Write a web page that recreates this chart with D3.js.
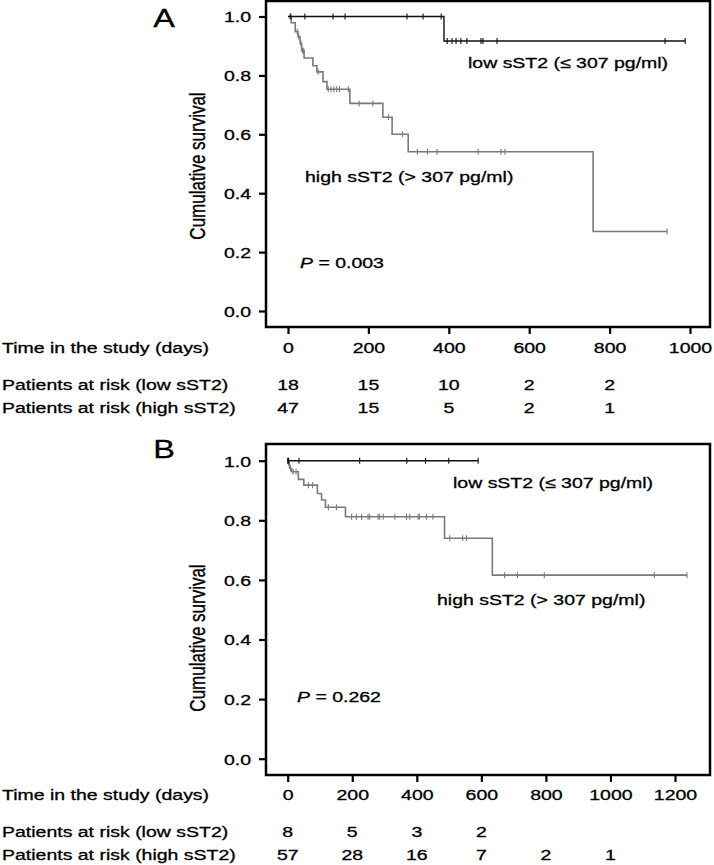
<!DOCTYPE html>
<html>
<head>
<meta charset="utf-8">
<script src="https://cdn.jsdelivr.net/npm/d3@7"></script>
<style>
  body { margin: 0; background: #fff; }
  svg { display: block; font-family: 'Liberation Sans', Arial, sans-serif; }
  svg text { stroke: #000; stroke-width: 0.3px; }
</style>
</head>
<body>
<div id="chart"></div>
<script>
// survival axis ticks (shared)
const survTicks = [0, 0.2, 0.4, 0.6, 0.8, 1.0]

// panel A
const timeTicksA = [0, 200, 400, 600, 800, 1000]
const riskTimesA = [0, 200, 400, 600, 800]
const riskLowA = [18, 15, 10, 2, 2]
const riskHighA = [47, 15, 5, 2, 1]

const lowTimesA = [0, 388]
const lowSurvA = [1, 0.917]
const lowEndA = 988
const lowCensorA = [7, 42, 112, 142, 296, 336, 381, 396, 408, 418, 430, 445, 480, 485, 520, 938, 988]

const highTimesA = [0, 8, 18, 25, 30, 34, 40, 62, 72, 87, 97, 154, 236, 259, 299, 759]
const highSurvA = [1, 0.979, 0.948, 0.931, 0.909, 0.884, 0.859, 0.833, 0.812, 0.779, 0.753, 0.705, 0.658, 0.6, 0.541, 0.27]
const highEndA = 943
const highCensorA = [5, 23, 27, 32, 36, 39, 75, 100, 107, 114, 121, 128, 150, 177, 211, 250, 285, 322, 347, 371, 473, 530, 540, 943]

// panel B
const timeTicksB = [0, 200, 400, 600, 800, 1000, 1200]
const riskTimesB = [0, 200, 400, 600, 800, 1000]
const riskLowB = [8, 5, 3, 2]
const riskHighB = [57, 28, 16, 7, 2, 1]

const lowTimesB = [0]
const lowSurvB = [1]
const lowEndB = 590
const lowCensorB = [0, 3, 35, 223, 369, 427, 499, 590]

const highTimesB = [0, 3, 7, 12, 33, 50, 92, 105, 117, 179, 486, 634]
const highSurvB = [1, 0.9855, 0.974, 0.963, 0.9375, 0.918, 0.89, 0.868, 0.844, 0.812, 0.74, 0.616]
const highEndB = 1237
const highCensorB = [2, 5, 9, 17, 26, 64, 77, 126, 151, 198, 213, 229, 249, 254, 280, 285, 296, 332, 368, 378, 404, 408, 430, 450, 502, 542, 554, 672, 712, 795, 1136, 1237]

const lowLabel = 'low sST2 (\u2264 307 pg/ml)'
const highLabel = 'high sST2 (> 307 pg/ml)'

const width = 714
const height = 865
const sx = 1.3
const fontSize = 15
const lowColor = '#111111'
const highColor = '#7a7a7a'

const panels = [
  {
    name: 'A', pValue: '0.003',
    timeTicks: timeTicksA, riskTimes: riskTimesA, riskLow: riskLowA, riskHigh: riskHighA,
    low: { times: lowTimesA, surv: lowSurvA, end: lowEndA, censor: lowCensorA },
    high: { times: highTimesA, surv: highSurvA, end: highEndA, censor: highCensorA },
    xDomain: [0, 1000], xRange: [288, 690], yRange: [311, 16.5],
    frame: { x0: 266, y0: 1, x1: 710, y1: 327 },
    letter: [164, 27], yTitle: [197, 166],
    lowText: [468, 68], highText: [305, 182], pText: [300, 268],
    rowY: [353, 390, 413],
  },
  {
    name: 'B', pValue: '0.262',
    timeTicks: timeTicksB, riskTimes: riskTimesB, riskLow: riskLowB, riskHigh: riskHighB,
    low: { times: lowTimesB, surv: lowSurvB, end: lowEndB, censor: lowCensorB },
    high: { times: highTimesB, surv: highSurvB, end: highEndB, censor: highCensorB },
    xDomain: [0, 1200], xRange: [287.7, 675], yRange: [758.7, 460.7],
    frame: { x0: 266, y0: 444, x1: 710, y1: 775 },
    letter: [164, 458], yTitle: [197, 638],
    lowText: [453, 488], highText: [437, 605], pText: [297, 702],
    rowY: [800, 837, 860],
  },
]

const svg = d3
  .select('#chart')
  .append('svg')
  .attr('width', width)
  .attr('height', height)

function addText(g, x, y, str, anchor) {
  return g
    .append('text')
    .attr('transform', `translate(${x},${y}) scale(${sx},1)`)
    .attr('text-anchor', anchor || 'start')
    .attr('font-size', fontSize)
    .attr('fill', '#000')
    .text(str)
}

function survAt(curve, t) {
  let s = curve.surv[0]
  curve.times.forEach((ti, i) => {
    if (ti <= t) s = curve.surv[i]
  })
  return s
}

function drawPanel(p) {
  const g = svg.append('g')

  const xScale = d3.scaleLinear().domain(p.xDomain).range(p.xRange)
  const yScale = d3.scaleLinear().domain([0, 1]).range(p.yRange)

  // frame
  g.append('rect')
    .attr('x', p.frame.x0)
    .attr('y', p.frame.y0)
    .attr('width', p.frame.x1 - p.frame.x0)
    .attr('height', p.frame.y1 - p.frame.y0)
    .attr('fill', 'none')
    .attr('stroke', '#000')
    .attr('stroke-width', 2.5)

  // y axis
  const yAxis = d3
    .axisLeft(yScale)
    .tickValues(survTicks)
    .tickFormat(d3.format('.1f'))
    .tickSize(7)
    .tickSizeOuter(0)

  const yg = g.append('g')
    .attr('transform', `translate(${p.frame.x0},0)`)
    .call(yAxis)
  yg.select('.domain').remove()
  yg.selectAll('.tick line').attr('stroke', '#000').attr('stroke-width', 2.2)
  yg.selectAll('.tick text')
    .attr('x', null)
    .attr('dy', '0.36em')
    .attr('transform', `translate(-15,0) scale(${sx},1)`)
    .attr('font-size', fontSize)
    .attr('font-family', null)
    .attr('fill', '#000')

  // x axis
  const xAxis = d3
    .axisBottom(xScale)
    .tickValues(p.timeTicks)
    .tickFormat(d3.format('d'))
    .tickSize(7)
    .tickSizeOuter(0)

  const xg = g.append('g')
    .attr('transform', `translate(0,${p.frame.y1})`)
    .call(xAxis)
  xg.select('.domain').remove()
  xg.selectAll('.tick line').attr('stroke', '#000').attr('stroke-width', 2.2)
  xg.selectAll('.tick text')
    .attr('y', null)
    .attr('dy', null)
    .attr('transform', `translate(0,${p.rowY[0] - p.frame.y1}) scale(${sx},1)`)
    .attr('font-size', fontSize)
    .attr('font-family', null)
    .attr('fill', '#000')

  // curves
  const line = d3
    .line()
    .curve(d3.curveStepAfter)
    .x(d => xScale(d[0]))
    .y(d => yScale(d[1]))

  ;[[p.high, highColor, 1.6], [p.low, lowColor, 1.4]].forEach(([curve, color, w]) => {
    const pts = curve.times.map((t, i) => [t, curve.surv[i]])
    pts.push([curve.end, curve.surv[curve.surv.length - 1]])

    g.append('path')
      .datum(pts)
      .attr('d', line)
      .attr('fill', 'none')
      .attr('stroke', color)
      .attr('stroke-width', w)

    g.append('g')
      .selectAll('line')
      .data(curve.censor)
      .join('line')
      .attr('x1', d => xScale(d))
      .attr('x2', d => xScale(d))
      .attr('y1', d => yScale(survAt(curve, d)) - 3)
      .attr('y2', d => yScale(survAt(curve, d)) + 3)
      .attr('stroke', color)
      .attr('stroke-width', 1.1)
  })

  // labels
  g.append('text')
    .attr('transform', `translate(${p.letter[0]},${p.letter[1]}) scale(${sx},1)`)
    .attr('text-anchor', 'middle')
    .attr('font-size', 25)
    .attr('stroke-width', 0.2)
    .text(p.name)

  g.append('text')
    .attr('transform', `translate(${p.yTitle[0]},${p.yTitle[1]}) scale(${sx},1) rotate(-90)`)
    .attr('text-anchor', 'middle')
    .attr('font-size', 17)
    .attr('dy', '0.35em')
    .attr('stroke-width', 0.15)
    .text('Cumulative survival')

  addText(g, p.lowText[0], p.lowText[1], lowLabel)
  addText(g, p.highText[0], p.highText[1], highLabel)

  const pt = addText(g, p.pText[0], p.pText[1], '')
  pt.append('tspan').attr('font-style', 'italic').text('P')
  pt.append('tspan').text(` = ${p.pValue}`)

  // number at risk table
  addText(g, 2, p.rowY[0], 'Time in the study (days)')
  addText(g, 2, p.rowY[1], 'Patients at risk (low sST2)')
  addText(g, 2, p.rowY[2], 'Patients at risk (high sST2)')

  p.riskLow.forEach((n, i) => {
    addText(g, xScale(p.riskTimes[i]), p.rowY[1], n, 'middle')
  })
  p.riskHigh.forEach((n, i) => {
    addText(g, xScale(p.riskTimes[i]), p.rowY[2], n, 'middle')
  })
}

panels.forEach(drawPanel)
</script>
</body>
</html>
